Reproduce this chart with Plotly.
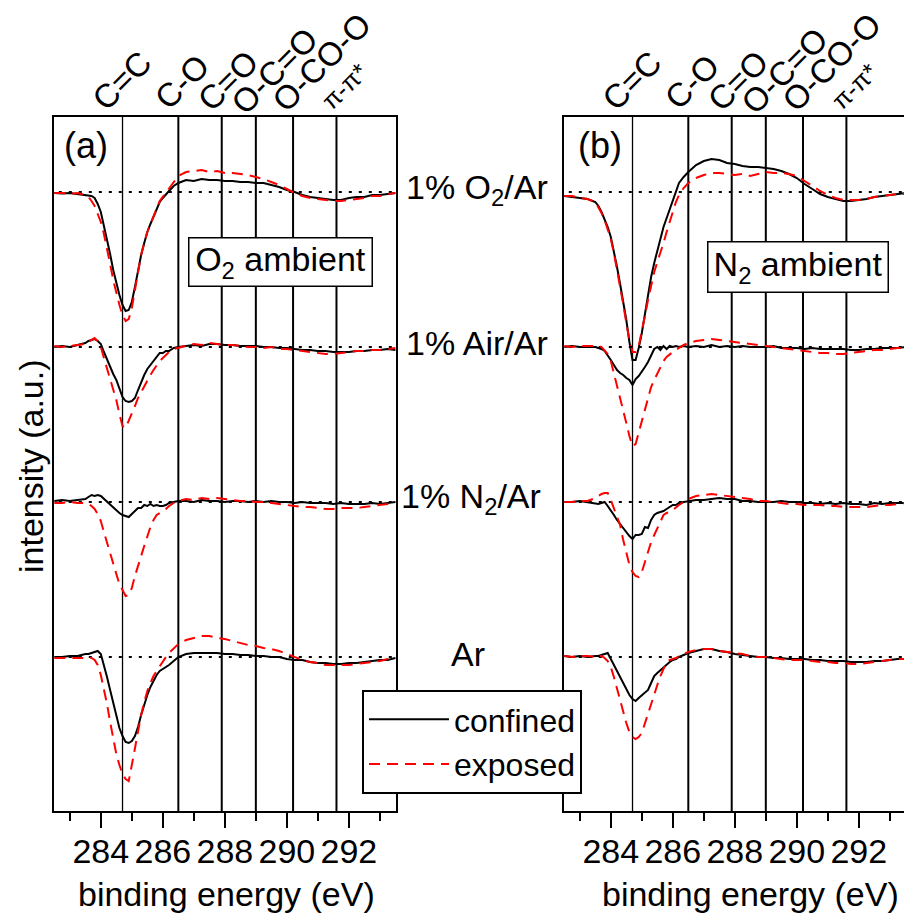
import plotly.graph_objects as go

# ---------------- data ----------------
energy = [282.50, 282.75, 283.00, 283.25, 283.50,
          283.60, 283.70, 283.80, 283.90, 284.00, 284.10, 284.20, 284.30, 284.40, 284.50,
          284.60, 284.70, 284.80, 284.90, 285.00, 285.10, 285.20, 285.30, 285.40, 285.50,
          285.60, 285.70, 285.80, 285.90, 286.00, 286.10, 286.20,
          286.35, 286.50,
          286.75, 287.00, 287.25, 287.50, 287.75, 288.00, 288.25, 288.50, 288.75, 289.00,
          289.25, 289.50, 289.75, 290.00, 290.25, 290.50, 290.75, 291.00, 291.25, 291.50,
          291.75, 292.00, 292.25, 292.50, 292.75, 293.00, 293.25, 293.50]

gas_labels = ["1% O<sub>2</sub>/Ar", "1% Air/Ar", "1% N<sub>2</sub>/Ar", "Ar"]
gas_offsets = [465, 310, 155, 0]

# panel (a): O2 ambient
a_O2_confined = [-1, -1.5, -1, -2, -2.5,
                 -3, -4, -6, -12, -20, -33, -46, -62, -78, -91,
                 -103, -113, -119, -118, -110, -95, -78, -63, -51, -40,
                 -32, -25, -17, -10, -6, -2, 1,
                 6, 9,
                 12, 11, 13, 12, 12, 11, 11, 10, 10, 9,
                 9, 7, 5, 2, 0, -3, -5, -6, -7, -8,
                 -8, -6, -5, -5, -3, -3, -2, -1]
a_O2_exposed = [-1, -1, -2, -1, -3,
                -5, -9, -14, -22, -30, -42, -56, -72, -88, -102,
                -113, -123, -129, -127, -116, -98, -79, -63, -51, -40,
                -32, -25, -17, -9, -5, 0, 4,
                10, 16,
                20, 21, 22, 20, 21, 19, 19, 18, 17, 15,
                13, 10, 7, 3, -1, -4, -6, -7, -8, -9,
                -9, -8, -7, -6, -4, -4, -2, -1]
a_Air_confined = [0, 1, 0, 2, 4,
                  6, 7, 8, 6, 3, -5, -13, -21, -27, -33,
                  -42, -50, -54, -55, -54, -51, -43, -35, -28, -22,
                  -18, -14, -9, -6, -6, -4, -4,
                  -1, 0,
                  1, 2, 1, 3, 3, 2, 2, 1, 1, 1,
                  0, 0, -1, -1, -2, -3, -3, -4, -4, -5,
                  -5, -5, -4, -4, -3, -3, -2, -3]
a_Air_exposed = [1, 0, 1, 2, 3,
                 5, 7, 9, 6, 0, -11, -21, -31, -42, -53,
                 -67, -79, -81, -74, -66, -59, -51, -45, -39, -33,
                 -28, -23, -18, -14, -11, -8, -5,
                 -2, -1,
                 1, 3, 2, 4, 3, 2, 2, 1, 0, 0,
                 -1, 0, -2, -2, -3, -4, -5, -6, -7, -7,
                 -6, -5, -4, -4, -3, -3, -2, -1]
a_N2_confined = [1, 2, 1, 2, 3,
                 5, 7, 6, 7, 6, 3, 0, -3, -6, -9,
                 -11, -13, -14, -15, -12, -9, -6, -6, -3, -4,
                 -2, -4, -3, -4, -4, -3, -1,
                 0, 1,
                 1, 0, 2, 1, 1, 0, 1, 1, 0, 1,
                 0, 1, 0, 0, -1, 0, -1, -1, -1, -2,
                 -1, -2, -2, -2, -1, -2, -1, 0]
a_N2_exposed = [-1, -1, 0, -1, -1,
                -2, -4, -7, -12, -19, -30, -41, -52, -63, -72,
                -82, -88, -94, -93, -86, -74, -63, -54, -44, -34,
                -25, -18, -13, -11, -9, -7, -4,
                -1, 1,
                3, 2, 4, 3, 4, 3, 2, 1, 1, 0,
                0, -1, -2, -3, -4, -5, -5, -6, -7, -7,
                -6, -6, -6, -5, -4, -3, -2, 0]
a_Ar_confined = [0, 0, 1, 1, 3,
                 3, 4, 5, 6, 3, -8, -20, -33, -46, -59,
                 -71, -79, -85, -86, -84, -79, -70, -58, -47, -38,
                 -30, -24, -18, -14, -12, -10, -8,
                 -4, 0,
                 3, 4, 4, 4, 4, 3, 3, 2, 2, 1,
                 1, 0, 0, -2, -3, -3, -5, -6, -6, -7,
                 -7, -6, -6, -5, -4, -3, -3, -1]
a_Ar_exposed = [-1, -1, -1, -1, -1,
                -1, -1, -3, -8, -18, -32, -47, -65, -83, -97,
                -108, -117, -122, -124, -108, -90, -74, -58, -45, -34,
                -26, -19, -14, -9, -4, 0, 4,
                9, 13,
                17, 19, 21, 21, 19, 18, 16, 14, 12, 11,
                9, 8, 6, 3, 0, -3, -5, -6, -8, -8,
                -8, -8, -7, -6, -5, -4, -2, -1]

# panel (b): N2 ambient
b_O2_confined = [-4, -5, -6, -7, -10,
                 -14, -20, -27, -35, -45, -59, -75, -92, -109, -128,
                 -150, -168, -168, -156, -141, -121, -102, -85, -71, -60,
                 -47, -35, -26, -17, -8, 1, 9,
                 15, 20,
                 27, 31, 33, 32, 29, 28, 26, 25, 25, 24,
                 23, 21, 18, 14, 8, 3, -2, -5, -7, -9,
                 -9, -8, -7, -5, -4, -3, -2, -1]
b_O2_exposed = [-4, -4, -6, -7, -10,
                -15, -21, -28, -37, -47, -61, -77, -94, -112, -131,
                -148, -160, -160, -154, -140, -124, -108, -93, -80, -70,
                -61, -51, -40, -30, -20, -10, -3,
                4, 9,
                14, 17, 19, 19, 18, 17, 18, 16, 18, 20,
                19, 19, 18, 16, 11, 6, 1, -3, -6, -8,
                -8, -8, -7, -5, -4, -3, -2, -2]
b_Air_confined = [0, 1, 0, 0, 0,
                  -1, -2, -4, -8, -13, -18, -23, -26, -28, -31,
                  -33, -38, -32, -29, -25, -20, -15, -8, -2, 0,
                  -3, 1, -2, 1, 0, 1, 0,
                  1, 0,
                  1, 0, 2, 0, 1, 0, 1, 0, 0, 0,
                  1, -1, -1, -1, -2, -1, -2, -2, -2, -2,
                  -3, -3, -2, -2, -1, -1, -1, 0]
b_Air_exposed = [1, 0, 1, 1, 1,
                 1, 0, -3, -7, -14, -26, -39, -52, -64, -76,
                 -89, -99, -97, -86, -75, -64, -51, -40, -33, -27,
                 -20, -14, -10, -7, -5, -3, -1,
                 2, 4,
                 6, 7, 8, 7, 6, 5, 4, 3, 2, 1,
                 0, -1, -2, -3, -4, -5, -6, -6, -7, -7,
                 -6, -5, -4, -3, -3, -2, -1, -1]
b_N2_confined = [0, 0, 1, 0, -1,
                 -2, -1, 0, -4, -8, -13, -18, -22, -27, -30,
                 -34, -37, -33, -33, -32, -25, -26, -18, -13, -11,
                 -10, -9, -7, -5, -3, -3, -1,
                 0, 1,
                 2, 2, 3, 4, 3, 3, 1, 1, 0, 0,
                 0, 1, 0, 0, -1, -1, -2, -1, -2, -1,
                 -2, -2, -3, -1, -2, -1, -1, -1]
b_N2_exposed = [0, 0, 1, 1, 4,
                6, 8, 9, 9, 2, -6, -14, -23, -38, -51,
                -63, -70, -74, -75, -70, -60, -49, -40, -33, -26,
                -19, -13, -11, -10, -8, -5, -3,
                0, 3,
                6, 7, 8, 7, 6, 5, 4, 3, 1, 1,
                0, -1, -2, -2, -3, -3, -3, -4, -4, -5,
                -5, -5, -5, -4, -3, -3, -2, -1]
b_Ar_confined = [1, 0, 1, 0, 1,
                 1, 2, 3, 4, -2, -8, -15, -20, -27, -32,
                 -38, -42, -44, -41, -38, -36, -33, -26, -19, -16,
                 -13, -10, -7, -5, -3, -2, 0,
                 2, 4,
                 6, 8, 8, 6, 5, 3, 2, 1, 0, 0,
                 -1, -1, -2, -2, -2, -3, -3, -4, -4, -4,
                 -5, -5, -5, -4, -4, -3, -2, -2]
b_Ar_exposed = [1, 0, 1, 1, 0,
                1, 1, -1, -4, -10, -20, -32, -43, -55, -66,
                -75, -80, -82, -80, -76, -66, -56, -46, -37, -28,
                -19, -12, -5, -3, -2, -1, 1,
                3, 5,
                7, 8, 8, 6, 5, 4, 3, 1, 0, 0,
                -1, -2, -3, -3, -3, -4, -5, -5, -6, -6,
                -7, -7, -6, -5, -4, -3, -2, -2]

panel_a = [(a_O2_confined, a_O2_exposed), (a_Air_confined, a_Air_exposed),
           (a_N2_confined, a_N2_exposed), (a_Ar_confined, a_Ar_exposed)]
panel_b = [(b_O2_confined, b_O2_exposed), (b_Air_confined, b_Air_exposed),
           (b_N2_confined, b_N2_exposed), (b_Ar_confined, b_Ar_exposed)]

peak_positions = [284.7, 286.5, 287.9, 289.0, 290.2, 291.6]
peak_labels = ["C=C", "C-O", "C=O", "O-C=O", "O-CO-O", "\u03c0-\u03c0*"]

x_ticks = [284, 286, 288, 290, 292]

for s in panel_a + panel_b:
    assert len(s[0]) == len(energy) and len(s[1]) == len(energy)

# ---------------- figure ----------------
W, H = 904, 913
ML, MR, MT, MB = 54, 0, 117, 102
PW, PH = W - ML - MR, H - MT - MB


def px(X):
    return (X - ML) / PW


def py(Y):
    return (H - MB - Y) / PH


FONT = "Liberation Sans, Arial, sans-serif"
fig = go.Figure()

for p, (panel, xa, ya) in enumerate([(panel_a, "x", "y"), (panel_b, "x2", "y2")]):
    for g, (conf, expo) in enumerate(panel):
        off = gas_offsets[g]
        fig.add_trace(go.Scatter(x=[282.0, 294.0], y=[off, off], mode="lines",
                                 line=dict(color="black", width=2.2, dash="3px,7px"),
                                 xaxis=xa, yaxis=ya, showlegend=False, hoverinfo="skip"))
        fig.add_trace(go.Scatter(x=energy, y=[v + off for v in conf], mode="lines",
                                 line=dict(color="black", width=2),
                                 name="confined", legendrank=1,
                                 showlegend=(p == 0 and g == 0),
                                 xaxis=xa, yaxis=ya))
        fig.add_trace(go.Scatter(x=energy, y=[v + off for v in expo], mode="lines",
                                 line=dict(color="#ff0000", width=2, dash="11px,7px"),
                                 name="exposed", legendrank=2,
                                 showlegend=(p == 0 and g == 0),
                                 xaxis=xa, yaxis=ya))

shapes = []
for xr, yr in [("x", "y domain"), ("x2", "y2 domain")]:
    for i, e in enumerate(peak_positions):
        shapes.append(dict(type="line", xref=xr, yref=yr, x0=e, x1=e, y0=0, y1=1,
                           line=dict(color="black", width=1.3 if i == 0 else 2), layer="below"))

annotations = []
# rotated peak labels above both panels
label_dx = [-1, 4, 6, 19, 28, 8]
label_y = [80, 82, 80, 71, 62, 86]
for xr in ["x", "x2"]:
    for i, (e, lab) in enumerate(zip(peak_positions, peak_labels)):
        annotations.append(dict(x=e, xref=xr, y=py(label_y[i]), yref="paper",
                                text=lab, showarrow=False, textangle=-45,
                                xanchor="center", yanchor="middle", xshift=label_dx[i],
                                font=dict(size=25 if i == 5 else 33)))

annotations += [
    dict(x=px(86), y=py(146), text="(a)", font=dict(size=36)),
    dict(x=px(600), y=py(145), text="(b)", font=dict(size=36)),
    dict(x=px(477), y=py(189), text=gas_labels[0], font=dict(size=34)),
    dict(x=px(477), y=py(343), text=gas_labels[1], font=dict(size=34)),
    dict(x=px(471), y=py(498), text=gas_labels[2], font=dict(size=34)),
    dict(x=px(468), y=py(654), text=gas_labels[3], font=dict(size=34)),
    dict(x=px(280.5), y=py(262), text="O<sub>2</sub> ambient", font=dict(size=34),
         bordercolor="black", borderwidth=1.5, bgcolor="white", width=180, height=45, borderpad=1),
    dict(x=px(797.5), y=py(267), text="N<sub>2</sub> ambient", font=dict(size=34),
         bordercolor="black", borderwidth=1.5, bgcolor="white", width=177, height=47, borderpad=1),
    dict(x=px(31), y=py(466), text="intensity (a.u.)", textangle=-90, font=dict(size=34)),
    dict(x=px(226), y=py(894), text="binding energy (eV)", font=dict(size=34)),
    dict(x=px(750), y=py(894), text="binding energy (eV)", font=dict(size=34)),
]
for a in annotations:
    a.setdefault("xref", "paper")
    a.setdefault("yref", "paper")
    a.setdefault("showarrow", False)
    a.setdefault("xanchor", "center")
    a.setdefault("yanchor", "middle")
    a["font"] = dict(family=FONT, color="black", size=a["font"]["size"])

xcommon = dict(showgrid=False, zeroline=False, showline=True, linecolor="black", linewidth=2,
               mirror=True, ticks="outside", ticklen=15, tickwidth=2, tickcolor="black",
               tickvals=x_ticks, tickfont=dict(family=FONT, size=34, color="black"),
               ticklabelstandoff=-6,
               minor=dict(dtick=1, tick0=283, ticks="outside", ticklen=8, tickwidth=2, tickcolor="black"))
ycommon = dict(showgrid=False, zeroline=False, showline=True, linecolor="black", linewidth=2,
               showticklabels=False, ticks="", range=[-154, 540])

fig.update_layout(
    width=W, height=H,
    margin=dict(l=ML, r=MR, t=MT, b=MB),
    plot_bgcolor="white", paper_bgcolor="white",
    font=dict(family=FONT, color="black"),
    xaxis=dict(domain=[0, 342 / PW], range=[282.49, 293.52], anchor="y", **xcommon),
    xaxis2=dict(domain=[510 / PW, 1], range=[282.49, 293.458], anchor="y2", **xcommon),
    yaxis=dict(domain=[0, 1], anchor="x", mirror=True, **ycommon),
    yaxis2=dict(domain=[0, 1], anchor="x2", mirror=False, **ycommon),
    shapes=shapes,
    annotations=annotations,
    showlegend=True,
    legend=dict(x=px(362), y=py(690), xanchor="left", yanchor="top",
                bordercolor="black", borderwidth=2, bgcolor="white",
                font=dict(family=FONT, size=32, color="black"),
                itemwidth=80, entrywidth=150, entrywidthmode="pixels", tracegroupgap=0),
)

fig.write_html("out.html", config={"displayModeBar": False},
               post_script="document.body.style.margin='0';")
